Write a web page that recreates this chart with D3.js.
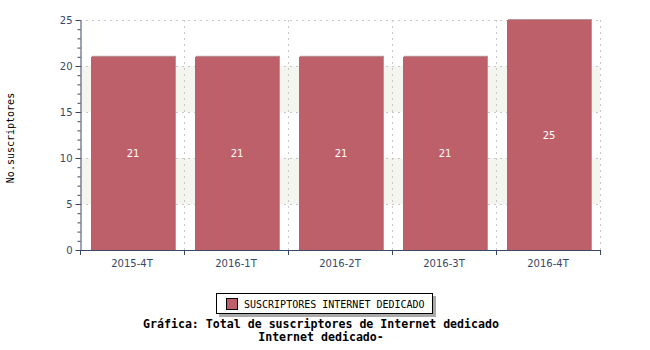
<!DOCTYPE html>
<meta charset="utf-8">
<style>
body{ margin: 0; background: #fff; }
svg{ display: block; }
.tick text{ font-family: "DejaVu Sans", sans-serif; font-size: 10px; fill: #3a4766; }
.mono{ font-family: "DejaVu Sans Mono", monospace; }
</style>
<div id="chart"></div>
<script src="https://cdn.jsdelivr.net/npm/d3@7"></script>
<script>
var categories = ['2015-4T', '2016-1T', '2016-2T', '2016-3T', '2016-4T']
var values = [21, 21, 21, 21, 25]
var yTicks = [0, 5, 10, 15, 20, 25]
var seriesName = 'SUSCRIPTORES INTERNET DEDICADO'

var width = 650, height = 350
var m = {top: 20, left: 80, right: 50, bottom: 100}
var axisColor = '#3a4766', barColor = '#bd6069'

var svg = d3.select('#chart').append('svg')
    .attr('width', width).attr('height', height)

var x = d3.scaleBand().domain(categories)
    .range([m.left, width - m.right]).paddingInner(0.19).paddingOuter(0.1)
var xb = d3.scaleBand().domain(categories).range([m.left, width - m.right])
var y = d3.scaleLinear().domain([0, 25]).range([height - m.bottom, m.top])

// alternating bands
var bands = [[5, 10], [15, 20]]
svg.selectAll('.band').data(bands).enter().append('rect')
    .attr('x', m.left).attr('width', width - m.right - m.left)
    .attr('y', function(d){ return y(d[1]) })
    .attr('height', function(d){ return y(d[0]) - y(d[1]) })
    .attr('fill', '#f5f5f0')

// grid
svg.selectAll('.hg').data(yTicks.slice(1)).enter().append('line')
    .attr('x1', m.left).attr('x2', width - m.right)
    .attr('y1', function(d){ return y(d) + 0.5 }).attr('y2', function(d){ return y(d) + 0.5 })
    .attr('stroke', '#c8c8c8').attr('stroke-dasharray', '2,4')
svg.selectAll('.vg').data(categories).enter().append('line')
    .attr('x1', function(d){ return xb(d) + xb.bandwidth() + 0.5 })
    .attr('x2', function(d){ return xb(d) + xb.bandwidth() + 0.5 })
    .attr('y1', m.top).attr('y2', y(0))
    .attr('stroke', '#c8c8c8').attr('stroke-dasharray', '2,4')

// bars
var bw = 84
function bx(d){ return xb(d) + (xb.bandwidth() - bw) / 2 + 1 }
svg.selectAll('.shadow').data(values).enter().append('rect')
    .attr('x', function(d, i){ return bx(categories[i]) + 1 })
    .attr('y', function(d){ return y(d) - 1 })
    .attr('width', bw).attr('height', function(d){ return y(0) - y(d) + 1 })
    .attr('fill', '#b9959b')
svg.selectAll('.bar').data(values).enter().append('rect')
    .attr('x', function(d, i){ return bx(categories[i]) })
    .attr('y', function(d){ return y(d) })
    .attr('width', bw).attr('height', function(d){ return y(0) - y(d) })
    .attr('fill', barColor)
svg.selectAll('.val').data(values).enter().append('text')
    .attr('x', function(d, i){ return bx(categories[i]) + bw / 2 })
    .attr('y', function(d){ return y(d / 2) + 4 })
    .attr('text-anchor', 'middle')
    .style('font-family', '"DejaVu Sans", sans-serif').style('font-size', '10px')
    .attr('fill', '#fff')
    .text(function(d){ return d })

// y axis
var yMinor = svg.append('g').attr('transform', 'translate(' + (m.left + 0.5) + ',0)')
    .call(d3.axisLeft(y).ticks(25).tickSize(3).tickFormat(''))
yMinor.select('.domain').remove()
var yAxis = svg.append('g').attr('transform', 'translate(' + (m.left + 0.5) + ',0)')
    .call(d3.axisLeft(y).tickValues(yTicks).tickSize(5).tickSizeOuter(0).tickPadding(3))
svg.selectAll('.tick line, .domain').attr('stroke', axisColor)

// x axis
var xAxis = svg.append('g').attr('transform', 'translate(0,' + (y(0) + 0.5) + ')')
    .call(d3.axisBottom(xb).tickSize(0).tickPadding(9))
xAxis.selectAll('.domain').attr('stroke', axisColor).attr('d', 'M' + m.left + ',0H' + (width - m.right))
svg.selectAll('.xt').data([m.left].concat(categories.map(function(d){ return xb(d) + xb.bandwidth() })))
  .enter().append('line')
    .attr('x1', function(d){ return d + 0.5 }).attr('x2', function(d){ return d + 0.5 })
    .attr('y1', y(0)).attr('y2', y(0) + 5)
    .attr('stroke', axisColor)

// y title
svg.append('text').attr('class', 'mono')
    .attr('transform', 'translate(14,' + ((m.top + y(0)) / 2 + 3) + ') rotate(-90)')
    .attr('text-anchor', 'middle').style('font-size', '10px')
    .text('No.suscriptores')

// legend
var lg = svg.append('g').attr('transform', 'translate(216,293)')
lg.append('rect').attr('x', 3).attr('y', 3).attr('width', 217).attr('height', 21).attr('fill', '#aaa')
lg.append('rect').attr('x', 0.5).attr('y', 0.5).attr('width', 216).attr('height', 20)
    .attr('fill', '#fff').attr('stroke', '#000')
lg.append('rect').attr('x', 10.5).attr('y', 5.5).attr('width', 11).attr('height', 11)
    .attr('fill', barColor).attr('stroke', '#000')
lg.append('text').attr('class', 'mono').attr('x', 28).attr('y', 14.5)
    .style('font-size', '10px').text(seriesName)

// title
svg.append('text').attr('class', 'mono').attr('x', 321).attr('y', 328)
    .attr('text-anchor', 'middle').style('font-size', '11.6px').style('font-weight', 'bold')
    .text('Gráfica: Total de suscriptores de Internet dedicado')
svg.append('text').attr('class', 'mono').attr('x', 321).attr('y', 341)
    .attr('text-anchor', 'middle').style('font-size', '11.6px').style('font-weight', 'bold')
    .text('Internet dedicado-')
</script>
